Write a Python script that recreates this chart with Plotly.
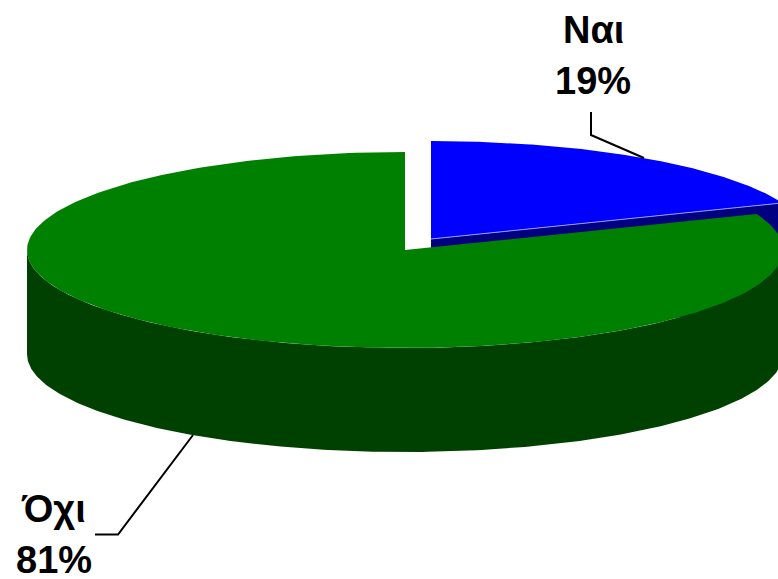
import numpy as np
import plotly.graph_objects as go

labels = ["Ναι", "Όχι"]
shares = [19, 81]

W, H = 778, 579
CX, CY, RX, RY, DEPTH = 405, 250, 378, 98, 104
PULL = (26, -11)
BLUE, NAVY = "#0000ff", "#000080"
GREEN, DARK = "#008000", "#004000"

fig = go.Figure()


def poly(xs, ys, color):
    fig.add_trace(go.Scatter(x=list(xs), y=list(ys), mode="lines", fill="toself",
                             fillcolor=color, line=dict(width=0, color=color),
                             hoverinfo="skip", showlegend=False))


def arc(a0, a1, dx=0, dy=0):
    t = np.radians(np.linspace(a0, a1, 240))
    return CX + dx + RX * np.sin(t), CY + dy - RY * np.cos(t)


split = shares[0] / sum(shares) * 360
px, py = PULL

# pulled-out slice: radial wall, then top face
cx1 = CX + px + RX * np.sin(np.radians(split))
cy1 = CY + py - RY * np.cos(np.radians(split))
poly([CX + px, cx1, cx1, CX + px], [CY + py, cy1, cy1 + DEPTH, CY + py + DEPTH], NAVY)
ax, ay = arc(0, split, px, py)
poly(np.r_[CX + px, ax], np.r_[CY + py, ay], BLUE)
fig.add_trace(go.Scatter(x=[CX + px, cx1], y=[CY + py, cy1], mode="lines",
                         line=dict(width=1, color="#9a9aff"),
                         hoverinfo="skip", showlegend=False))

# large slice: outer wall, then top face
fx, fy = arc(90, 270)
poly(np.r_[fx, fx[::-1]], np.r_[fy, fy[::-1] + DEPTH], DARK)
gx, gy = arc(split, 360)
poly(np.r_[CX, gx], np.r_[CY, gy], GREEN)

# leader lines
for xs, ys in [([591, 591, 644], [112, 135, 158]), ([95, 118, 193], [534.5, 534.5, 435])]:
    fig.add_trace(go.Scatter(x=xs, y=ys, mode="lines", line=dict(width=2, color="black"),
                             hoverinfo="skip", showlegend=False))

# labels
font = dict(family="Liberation Sans, Arial, sans-serif", size=38, color="black", weight="bold")
spots = [(593, 30, 81), (53.5, 509, 560)]
for lab, val, (x, y1, y2) in zip(labels, shares, spots):
    fig.add_annotation(x=x, y=y1, text=f"<b>{lab}</b>", showarrow=False, font=font,
                       xanchor="center", yanchor="middle")
    fig.add_annotation(x=x, y=y2, text=f"<b>{val}%</b>", showarrow=False, font=font,
                       xanchor="center", yanchor="middle")

fig.update_xaxes(range=[0, W], visible=False, fixedrange=True)
fig.update_yaxes(range=[H, 0], visible=False, fixedrange=True)
fig.update_layout(width=W, height=H, margin=dict(l=0, r=0, t=0, b=0),
                  paper_bgcolor="white", plot_bgcolor="white", showlegend=False)
fig.write_html("out.html", config={"displayModeBar": False},
               post_script="document.body.style.margin='0';document.body.style.overflow='hidden';")
